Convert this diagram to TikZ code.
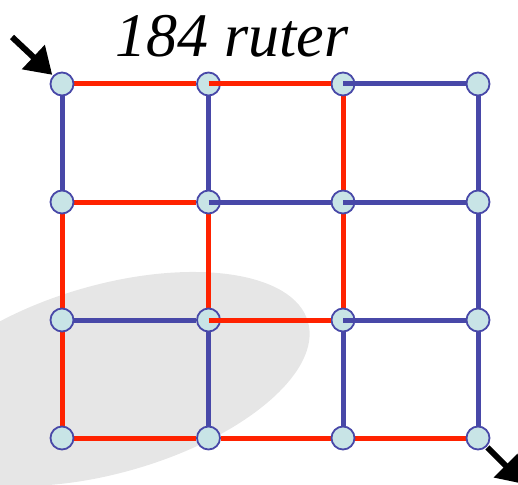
\documentclass[tikz,border=0pt]{standalone}
\usepackage{fontspec}
\setmainfont{Liberation Serif}
\usetikzlibrary{arrows.meta,backgrounds}
\definecolor{linkred}{HTML}{FF2200}
\definecolor{linkblue}{HTML}{4848A8}
\definecolor{routerfill}{HTML}{C8E4E6}
\definecolor{areagray}{HTML}{E6E6E6}
\begin{document}
\begin{tikzpicture}[x=1pt,y=-1pt,
  router/.style={circle,draw=linkblue,line width=1.8pt,fill=routerfill,minimum size=23pt,inner sep=0pt},
  rlink/.style={linkred,line width=5pt},
  blink/.style={linkblue,line width=5pt},
  bigarrow/.style={line width=6pt,-{Triangle[length=26pt,width=32pt]}}]
\useasboundingbox (0,0) rectangle (518,484);

% routers: n<column><row>
\foreach \c/\x in {1/62,2/208.5,3/343,4/478}
  \foreach \r/\y in {1/84,2/202,3/320,4/438}
    \node[router] (n\c\r) at (\x,\y) {};

\begin{scope}[on background layer]
  % shaded region
  \begin{scope}
    \clip (0,0) rectangle (518,484);
    \fill[areagray, rotate around={16:(108,379)}] (108,379) ellipse [x radius=208pt, y radius=94pt];
  \end{scope}
  % horizontal links
  \draw[rlink] (n11) -- (n21);
  \draw[rlink] (n12) -- (n22);
  \draw[blink] (n13) -- (n23);
  \draw[rlink] (n14) -- (n24);
  \draw[rlink] (n24) -- (n34);
  \draw[rlink] (n34) -- (n44);
  % vertical links
  \draw[blink] (n11) -- (n12);
  \draw[rlink] (n12) -- (n13);
  \draw[rlink] (n13) -- (n14);
  \draw[blink] (n21) -- (n22);
  \draw[rlink] (n22) -- (n23);
  \draw[blink] (n23) -- (n24);
  \draw[rlink] (n31) -- (n32);
  \draw[rlink] (n32) -- (n33);
  \draw[blink] (n33) -- (n34);
  \draw[blink] (n41) -- (n42);
  \draw[blink] (n42) -- (n43);
  \draw[blink] (n43) -- (n44);
\end{scope}

% links that start at the router centre, drawn over the circles
\draw[rlink] (n21.center) -- (n31.west);
\draw[blink] (n31.center) -- (n41.west);
\draw[blink] (n22.center) -- (n32.west);
\draw[blink] (n32.center) -- (n42.west);
\draw[rlink] (n23.center) -- (n33.west);
\draw[blink] (n33.center) -- (n43.west);

% title
\node[font=\itshape\fontsize{62}{70}\selectfont, anchor=base, inner sep=0pt] (title) at (232,57) {184 ruter};

% entry and exit arrows
\coordinate (entry) at (12,37);
\coordinate (exit) at (524,484);
\draw[bigarrow, shorten >=1pt] (entry) -- (n11);
\draw[bigarrow, shorten <=1pt] (n44) -- (exit);
\end{tikzpicture}
\end{document}
